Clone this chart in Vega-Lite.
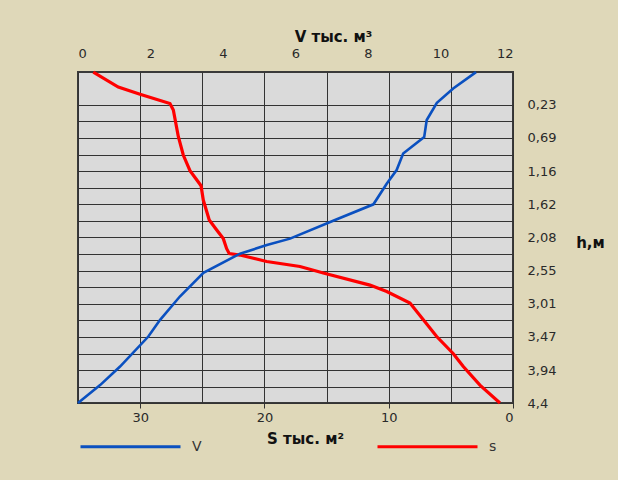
{
  "$schema": "https://vega.github.io/schema/vega-lite/v6.json",
  "width": 435,
  "height": 331,
  "autosize": "none",
  "padding": {"left": 78, "top": 72, "right": 105, "bottom": 77},
  "background": "#DFD8B9",
  "config": {
    "font": "DejaVu Sans",
    "view": {"fill": "#DADADA", "stroke": "#3a3a3a", "strokeWidth": 2}
  },
  "datasets": {
    "area": [
      {"series": "s", "h": -0.23, "S": 33.77},
      {"series": "s", "h": -0.02, "S": 31.76},
      {"series": "s", "h": 0.08, "S": 30.01},
      {"series": "s", "h": 0.21, "S": 27.6},
      {"series": "s", "h": 0.3, "S": 27.33},
      {"series": "s", "h": 0.67, "S": 26.93},
      {"series": "s", "h": 0.93, "S": 26.53},
      {"series": "s", "h": 1.15, "S": 25.99},
      {"series": "s", "h": 1.36, "S": 25.1},
      {"series": "s", "h": 1.56, "S": 24.92},
      {"series": "s", "h": 1.84, "S": 24.44},
      {"series": "s", "h": 1.98, "S": 23.84},
      {"series": "s", "h": 2.1, "S": 23.31},
      {"series": "s", "h": 2.24, "S": 23.04},
      {"series": "s", "h": 2.31, "S": 22.83},
      {"series": "s", "h": 2.33, "S": 21.97},
      {"series": "s", "h": 2.42, "S": 19.82},
      {"series": "s", "h": 2.49, "S": 17.14},
      {"series": "s", "h": 2.58, "S": 15.26},
      {"series": "s", "h": 2.75, "S": 11.51},
      {"series": "s", "h": 2.84, "S": 10.16},
      {"series": "s", "h": 3.0, "S": 8.29},
      {"series": "s", "h": 3.47, "S": 6.14},
      {"series": "s", "h": 3.71, "S": 4.8},
      {"series": "s", "h": 3.89, "S": 4.0},
      {"series": "s", "h": 4.15, "S": 2.66},
      {"series": "s", "h": 4.4, "S": 1.05}
    ],
    "volume": [
      {"series": "V", "h": -0.23, "V": 10.98},
      {"series": "V", "h": 0.0, "V": 10.35},
      {"series": "V", "h": 0.2, "V": 9.9},
      {"series": "V", "h": 0.44, "V": 9.62},
      {"series": "V", "h": 0.68, "V": 9.55},
      {"series": "V", "h": 0.91, "V": 8.97},
      {"series": "V", "h": 1.14, "V": 8.79},
      {"series": "V", "h": 1.33, "V": 8.52},
      {"series": "V", "h": 1.62, "V": 8.15},
      {"series": "V", "h": 1.85, "V": 7.04},
      {"series": "V", "h": 2.1, "V": 5.85},
      {"series": "V", "h": 2.19, "V": 5.21},
      {"series": "V", "h": 2.31, "V": 4.47},
      {"series": "V", "h": 2.58, "V": 3.46},
      {"series": "V", "h": 2.91, "V": 2.81},
      {"series": "V", "h": 3.24, "V": 2.26},
      {"series": "V", "h": 3.47, "V": 1.94},
      {"series": "V", "h": 3.89, "V": 1.16},
      {"series": "V", "h": 4.15, "V": 0.61},
      {"series": "V", "h": 4.4, "V": 0.0}
    ]
  },
  "encoding": {
    "y": {
      "field": "h",
      "type": "quantitative",
      "scale": {"domain": [-0.2316, 4.4], "reverse": true, "nice": false, "zero": false},
      "axis": {
        "orient": "right",
        "values": [0.23, 0.46, 0.69, 0.93, 1.16, 1.39, 1.62, 1.85, 2.08, 2.32, 2.55, 2.78, 3.01, 3.24, 3.47, 3.71, 3.94, 4.17, 4.4],
        "labelExpr": "indexof([0.23, 0.69, 1.16, 1.62, 2.08, 2.55, 3.01, 3.47, 3.94, 4.4], datum.value) >= 0 ? replace(toString(datum.value), '.', ',') : ''",
        "grid": true,
        "gridColor": "#333333",
        "gridWidth": 1,
        "gridOpacity": 1,
        "ticks": false,
        "domain": false,
        "labelPadding": 14,
        "labelAlign": "left",
        "labelFontSize": 13,
        "labelColor": "#2a2a2a",
        "title": "h,м",
        "titleAngle": 0,
        "titleX": 77,
        "titleY": 170,
        "titleAlign": "center",
        "titleBaseline": "middle",
        "titleFontSize": 15,
        "titleFontWeight": "bold",
        "titleColor": "#111111"
      }
    },
    "color": {
      "field": "series",
      "type": "nominal",
      "scale": {"domain": ["V", "s"], "range": ["#0A50C0", "#FF0000"]},
      "legend": {
        "orient": "none",
        "legendX": 1,
        "legendY": 323,
        "direction": "horizontal",
        "title": null,
        "padding": 0,
        "symbolType": "stroke",
        "symbolSize": 10000,
        "symbolStrokeWidth": 3,
        "labelOffset": 10,
        "labelFontSize": 14,
        "labelColor": "#333333",
        "columnPadding": 169
      }
    }
  },
  "layer": [
    {
      "data": {"name": "area"},
      "mark": {"type": "line", "strokeWidth": 3.2},
      "encoding": {
        "order": {"field": "h", "type": "quantitative"},
        "x": {
          "field": "S",
          "type": "quantitative",
          "scale": {"domain": [0, 35], "reverse": true, "nice": false},
          "axis": {
            "orient": "bottom",
            "values": [0, 5, 10, 15, 20, 25, 30, 35],
            "labelExpr": "datum.value % 10 === 0 ? datum.label : ''",
            "grid": true,
            "gridColor": "#333333",
            "gridWidth": 1,
            "gridOpacity": 1,
            "domain": false,
            "tickSize": 5,
            "tickColor": "#333333",
            "tickOpacity": {"condition": {"test": "datum.value % 10 === 0", "value": 1}, "value": 0},
            "labelPadding": 3,
            "labelFontSize": 13,
            "labelColor": "#2a2a2a",
            "title": "S тыс. м²",
            "titleX": 227,
            "titleY": 35,
            "titleAlign": "center",
            "titleBaseline": "middle",
            "titleFontSize": 15,
            "titleFontWeight": "bold",
            "titleColor": "#111111"
          }
        }
      }
    },
    {
      "data": {"name": "volume"},
      "mark": {"type": "line", "strokeWidth": 2.6},
      "encoding": {
        "order": {"field": "h", "type": "quantitative"},
        "x": {
          "field": "V",
          "type": "quantitative",
          "scale": {"domain": [0, 12], "nice": false},
          "axis": {
            "orient": "top",
            "values": [0, 2, 4, 6, 8, 10, 12],
            "grid": false,
            "ticks": false,
            "domain": false,
            "labelPadding": 12,
            "labelFontSize": 13,
            "labelColor": "#2a2a2a",
            "title": "V тыс. м³",
            "titleX": 255,
            "titleY": -36,
            "titleAlign": "center",
            "titleBaseline": "middle",
            "titleFontSize": 15,
            "titleFontWeight": "bold",
            "titleColor": "#111111"
          }
        }
      }
    }
  ],
  "resolve": {"scale": {"x": "independent"}, "axis": {"x": "independent"}}
}
